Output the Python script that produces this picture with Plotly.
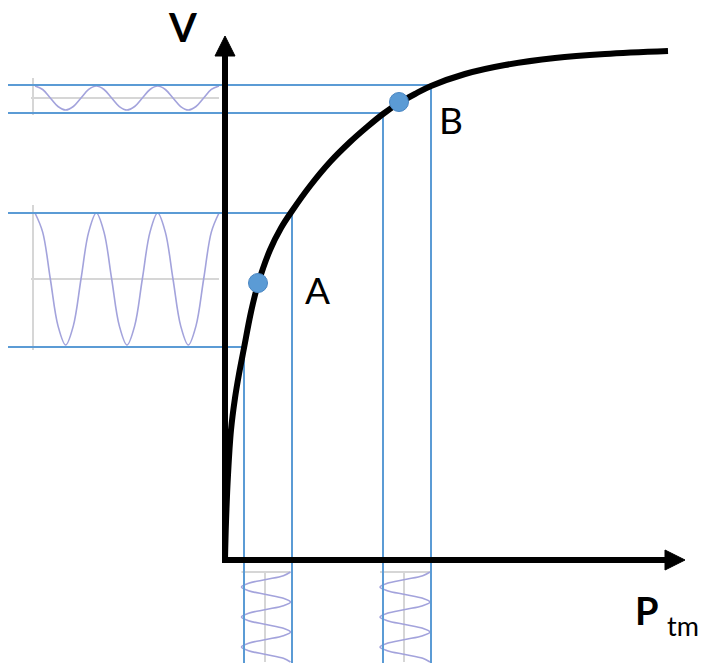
import plotly.graph_objects as go

# ---- data (diagram units: P to the right, V upward, origin at axis corner) ----
curve_P = [0, 1, 3, 6, 10, 14, 19, 26, 33, 45, 56, 67, 85, 105, 125, 142, 158, 174, 190, 206, 240, 280, 330, 380, 443]
curve_V = [0, 38, 85, 130, 162, 186, 212, 248, 276, 310, 332, 349, 374, 398, 418, 433, 446, 457, 466, 474, 486, 495, 502, 506, 509]

point_names = ["A", "B"]
point_P = [33, 174]
point_V = [277, 458]

# small-signal swing around each operating point: (P_lo, V_lo) -> (P_hi, V_hi)
swing_P_lo = [19, 158]
swing_P_hi = [67, 206]
swing_V_lo = [213, 447]
swing_V_hi = [347, 475]

# response waves drawn on the V side (time runs to the right)
vwave_center = [281, 462]
vwave_amp = [66, 12]
# excitation waves drawn under the P axis (time runs downward)
pwave_center = [41, 180]
pwave_amp = [24.5, 25]

# one cycle of a cosine, sampled every 45 degrees
cycle_shape = [1, 0.71, 0, -0.71, -1, -0.71, 0, 0.71]
n_cycles = 3

# ---- layout constants (1 unit = 1 px; page body has an 8 px margin) ----
P_MIN, P_MAX = -217, 484
V_MIN, V_MAX = -112, 552
LEFT = -220
BOTTOM = -103
vwave_t0, vwave_t1 = -190, -6
pwave_t0, pwave_t1 = -12, -102

BLUE = "#5B9BD5"
WAVE = "#A3A3DC"
GRID = "#D6D6D6"

shape = cycle_shape * n_cycles + [cycle_shape[0]]
n = len(shape)

fig = go.Figure()

def line(x, y, color, width):
    fig.add_trace(go.Scatter(x=x, y=y, mode="lines", line=dict(color=color, width=width),
                             hoverinfo="skip", showlegend=False))

# grey axes of the little wave charts
for c, a in zip(vwave_center, vwave_amp):
    line([vwave_t0 - 2, vwave_t0 - 2], [c - a - 5, c + a + 8], GRID, 2)
    line([vwave_t0 - 4, vwave_t1], [c, c], GRID, 2)
for c, a in zip(pwave_center, pwave_amp):
    line([c - a, c + a], [pwave_t0, pwave_t0], GRID, 2)
    line([c - 1, c - 1], [pwave_t0, pwave_t1], GRID, 2)

# response waves (V vs time)
for c, a in zip(vwave_center, vwave_amp):
    xs = [vwave_t0 + (vwave_t1 - vwave_t0) * i / (n - 1) for i in range(n)]
    ys = [c + a * s for s in shape]
    fig.add_trace(go.Scatter(x=xs, y=ys, mode="lines", line=dict(color=WAVE, width=1.6, shape="spline", smoothing=1.0),
                             hoverinfo="skip", showlegend=False))

# excitation waves (P vs time, time downward)
for c, a in zip(pwave_center, pwave_amp):
    ys = [pwave_t0 + (pwave_t1 - pwave_t0) * i / (n - 1) for i in range(n)]
    xs = [c + a * s for s in shape]
    fig.add_trace(go.Scatter(x=xs, y=ys, mode="lines", line=dict(color=WAVE, width=1.6, shape="spline", smoothing=1.0),
                             hoverinfo="skip", showlegend=False))

# blue projection lines
for plo, phi, vlo, vhi in zip(swing_P_lo, swing_P_hi, swing_V_lo, swing_V_hi):
    line([LEFT, plo, plo], [vlo, vlo, BOTTOM], BLUE, 2)
    line([LEFT, phi, phi], [vhi, vhi, BOTTOM], BLUE, 2)

# characteristic curve
fig.add_trace(go.Scatter(x=curve_P, y=curve_V, mode="lines",
                         line=dict(color="black", width=6, shape="spline", smoothing=1.0),
                         hoverinfo="skip", showlegend=False))

# axes with arrow heads
AX_W = 6
HEAD_L, HEAD_H = 20, 10
y_top, x_right = 504, 440
line([0, 0], [-1, y_top], "black", AX_W)
line([-3, x_right], [0, 0], "black", AX_W)
fig.add_trace(go.Scatter(x=[-HEAD_H, HEAD_H, 0, -HEAD_H], y=[y_top, y_top, y_top + HEAD_L, y_top],
                         mode="lines", fill="toself", fillcolor="black", line=dict(color="black", width=1),
                         hoverinfo="skip", showlegend=False))
fig.add_trace(go.Scatter(x=[x_right, x_right, x_right + HEAD_L, x_right], y=[-HEAD_H, HEAD_H, 0, -HEAD_H],
                         mode="lines", fill="toself", fillcolor="black", line=dict(color="black", width=1),
                         hoverinfo="skip", showlegend=False))

# operating points
fig.add_trace(go.Scatter(x=point_P, y=point_V, mode="markers",
                         marker=dict(size=19, color=BLUE, line=dict(color="#4A86C2", width=1)),
                         hoverinfo="skip", showlegend=False))

FONT = "Lato"
for name, p, v, dx, dy in zip(point_names, point_P, point_V, [59, 52], [-6, -17]):
    fig.add_annotation(x=p + dx, y=v + dy, text=name, showarrow=False,
                       font=dict(family=FONT, size=37, color="black"))

fig.add_annotation(x=-43, y=533, text="<b>V</b>", showarrow=False,
                   font=dict(family=FONT, size=40, color="black"))
fig.add_annotation(x=422, y=-50, text="<b>P</b>", showarrow=False,
                   font=dict(family=FONT, size=38, color="black"))
fig.add_annotation(x=458, y=-65, text="tm", showarrow=False,
                   font=dict(family=FONT, size=27, color="black"))

fig.update_layout(
    width=701, height=664,
    margin=dict(l=0, r=0, t=0, b=0),
    paper_bgcolor="white", plot_bgcolor="white",
    xaxis=dict(range=[P_MIN, P_MAX], visible=False, fixedrange=True),
    yaxis=dict(range=[V_MIN, V_MAX], visible=False, fixedrange=True),
    showlegend=False,
)

fig.write_html("out.html")
